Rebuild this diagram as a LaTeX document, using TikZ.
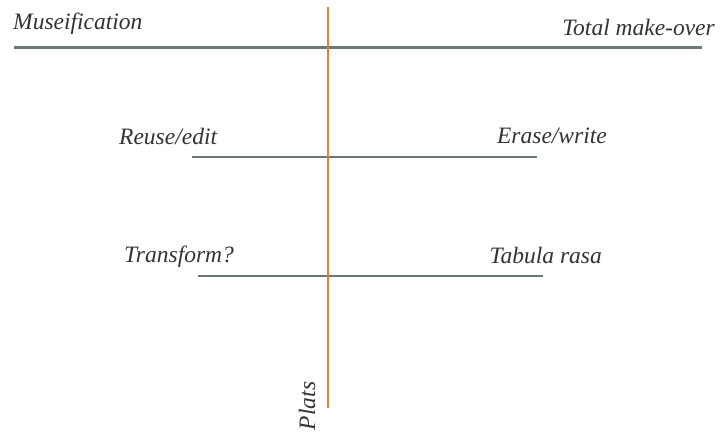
\documentclass[tikz,border=0pt]{standalone}
\usepackage{fontspec}
\setmainfont{Liberation Serif}
\definecolor{axisorange}{HTML}{ED7D31}
\definecolor{bargray}{HTML}{6B7878}
\begin{document}
\begin{tikzpicture}[x=1pt,y=-1pt,
  bar/.style={draw=bargray,line width=2.6pt},
  lbl/.style={inner sep=0pt,font=\itshape\fontsize{23.5}{26}\selectfont,text=black!80}]
\useasboundingbox (0,0) rectangle (721,435);
\coordinate (b1l) at (14,47.5); \coordinate (b1r) at (702,47.5);
\coordinate (b2l) at (192,157); \coordinate (b2r) at (537,157);
\coordinate (b3l) at (198,276); \coordinate (b3r) at (543,276);
\coordinate (vt) at (328,7); \coordinate (vb) at (328,408);
\draw[bar] (b1l) -- (b1r);
\draw[bar] (b2l) -- (b2r);
\draw[bar] (b3l) -- (b3r);
\draw[draw=axisorange,line width=2.4pt] (vt) -- (vb);
\node[lbl,anchor=west] (mus) at (13,24) {Museification};
\node[lbl,anchor=east] (tot) at (715,27) {Total make-over};
\node[lbl,anchor=west] (reu) at (119,136) {Reuse/edit};
\node[lbl,anchor=east] (era) at (607,136) {Erase/write};
\node[lbl,anchor=west] (tra) at (124,257) {Transform?};
\node[lbl,anchor=east] (tab) at (602,255) {Tabula rasa};
\node[lbl,rotate=90] (pla) at (307,406) {Plats};
\end{tikzpicture}
\end{document}
